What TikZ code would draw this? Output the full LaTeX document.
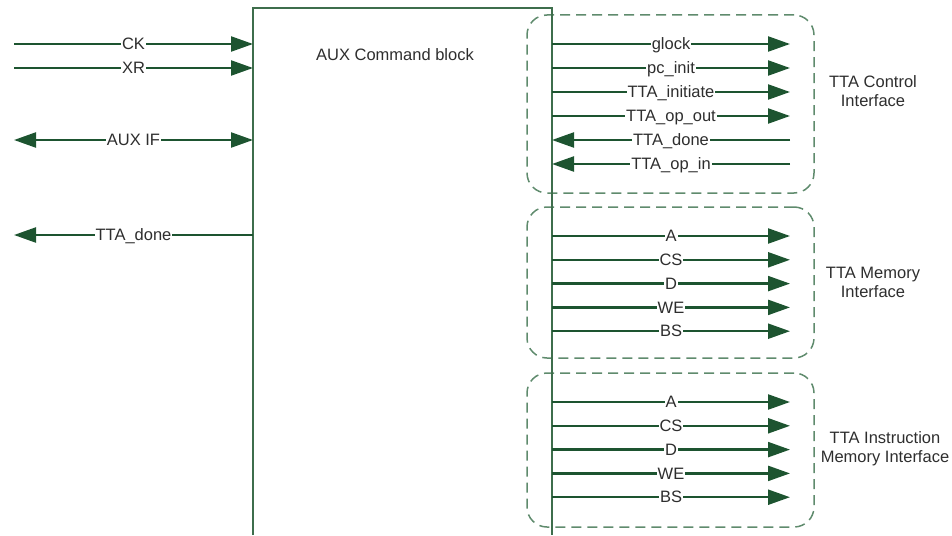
\documentclass[tikz,border=0pt]{standalone}
\usepackage{fontspec}
\setmainfont{Liberation Sans}
\usepackage{tikz}
\usetikzlibrary{positioning,arrows.meta,calc}
\definecolor{wiregreen}{HTML}{1D5430}
\definecolor{blkstroke}{HTML}{3E6E4C}
\definecolor{grpdash}{HTML}{5F8B6D}
\definecolor{txtgrey}{HTML}{2E2E2E}
\tikzset{
  wire/.style    = {-{Triangle[length=22pt, width=15pt]}, line width=2.3pt, draw=wiregreen},
  wireboth/.style= {{Triangle[length=22pt, width=15pt]}-{Triangle[length=22pt, width=15pt]},
                    line width=2.3pt, draw=wiregreen},
  sig/.style     = {font=\fontsize{16.5}{19}\selectfont, text=txtgrey, fill=white,
                    inner sep=1pt, text height=15pt, text depth=3.5pt, midway},
  blk/.style     = {draw=blkstroke, line width=1.4pt},
  grp/.style     = {draw=grpdash, dashed, dash pattern=on 10pt off 6pt, line width=1.5pt,
                    rounded corners=20pt},
  grplab/.style  = {font=\fontsize{16.5}{19}\selectfont, text=txtgrey, align=center},
}

\begin{document}
\begin{tikzpicture}[x=1pt, y=-1pt]
  \useasboundingbox (0,0) rectangle (952,535);

  % --- interface groups (dashed) ---
  \node[grp, minimum width=287pt, minimum height=178pt] (ctrl) at (670.5,104) {};
  \node[grp, minimum width=287pt, minimum height=151pt] (mem)  at (670.5,282.5) {};
  \node[grp, minimum width=287pt, minimum height=154pt] (imem) at (670.5,450) {};

  \node[grplab] (ctrl-lab) at (873,91)  {TTA Control\\Interface};
  \node[grplab] (mem-lab)  at (873,282) {TTA Memory\\Interface};
  \node[grplab] (imem-lab) at (885,449) {TTA Instruction\\Memory Interface};

  % --- AUX command block (open at the bottom) ---
  \coordinate (blk-sw) at (253,535);
  \coordinate (blk-nw) at (253,8);
  \coordinate (blk-ne) at (552,8);
  \coordinate (blk-se) at (552,535);
  \draw[blk] (blk-sw) -- (blk-nw) -- (blk-ne) -- (blk-se);
  \node[grplab] (blk-lab) at (395,55) {AUX Command block};

  % --- left side ---
  \foreach \y/\nm/\txt in {44/ck/CK, 68/xr/XR} {
    \coordinate (\nm-w) at (14,\y);
    \coordinate (\nm-e) at (253,\y);
    \draw[wire] (\nm-w) -- node[sig]{\txt} (\nm-e);
  }
  \coordinate (auxif-w) at (14,140);
  \coordinate (auxif-e) at (253,140);
  \draw[wireboth] (auxif-w) -- node[sig]{AUX IF} (auxif-e);
  \coordinate (done-w) at (14,235);
  \coordinate (done-e) at (253,235);
  \draw[wire] (done-e) -- node[sig]{TTA\_done} (done-w);

  % --- control interface ---
  \foreach \y/\nm/\txt in {44/glock/glock, 68/pcinit/pc\_init,
                          92/init/TTA\_initiate, 116/opout/TTA\_op\_out} {
    \coordinate (\nm-w) at (552,\y);
    \coordinate (\nm-e) at (790,\y);
    \draw[wire] (\nm-w) -- node[sig]{\txt} (\nm-e);
  }
  \foreach \y/\nm/\txt in {140/cdone/TTA\_done, 164/opin/TTA\_op\_in} {
    \coordinate (\nm-w) at (552,\y);
    \coordinate (\nm-e) at (790,\y);
    \draw[wire] (\nm-e) -- node[sig]{\txt} (\nm-w);
  }

  % --- data memory and instruction memory ---
  \foreach \grp/\y in {mem/236, imem/402} {
    \foreach \txt [count=\i from 0] in {A, CS, D, WE, BS} {
      \coordinate (\grp-\txt-w) at (552,\y+23.8*\i);
      \coordinate (\grp-\txt-e) at (790,\y+23.8*\i);
      \draw[wire] (\grp-\txt-w) -- node[sig]{\txt} (\grp-\txt-e);
    }
  }
\end{tikzpicture}
\end{document}
